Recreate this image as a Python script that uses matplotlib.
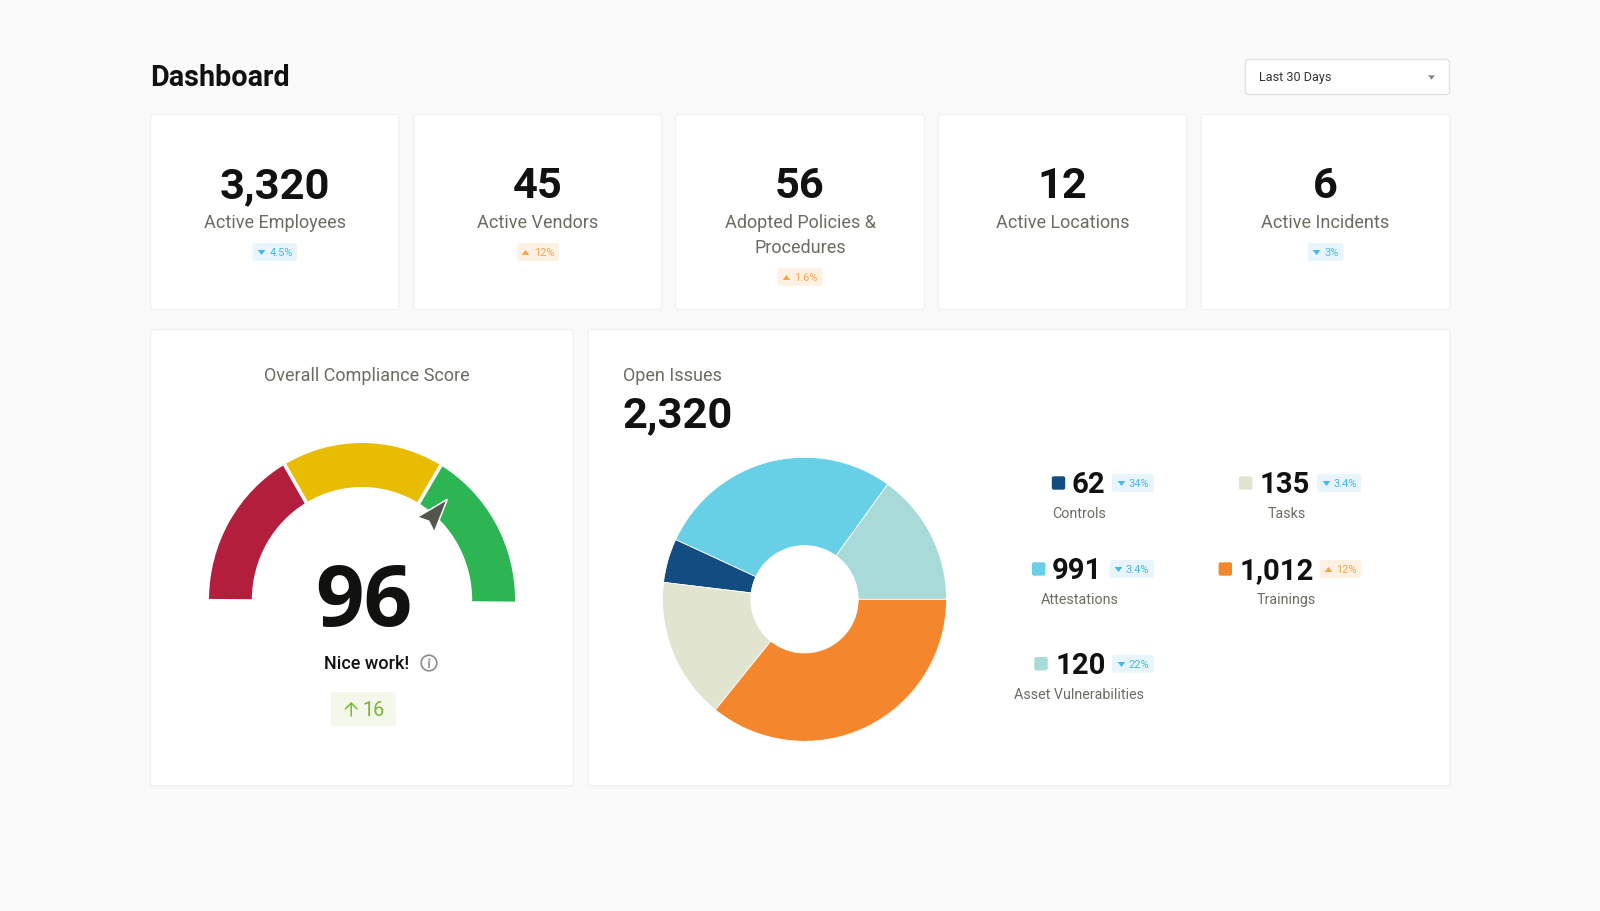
import matplotlib
matplotlib.use("Agg")
import numpy as np
import matplotlib.pyplot as plt
from matplotlib.patches import FancyBboxPatch, Wedge, Polygon, Circle
from matplotlib.path import Path

plt.rcParams['font.family'] = ['Roboto', 'DejaVu Sans']

W, H = 1600, 911
BG = '#FAFAFA'
INK = '#111210'
MUTED = '#6C6C62'
EDGE = '#F1F1F1'
BLUE, BLUE_BG = '#43B8F0', '#E8F5FC'
ORANGE, ORANGE_BG = '#F9A44A', '#FEF1E3'

# ---- data ----
page_title = 'Dashboard'
period_label = 'Last 30 Days'

kpi_values = ['3,320', '45', '56', '12', '6']
kpi_labels = ['Active Employees', 'Active Vendors', 'Adopted Policies &\nProcedures',
              'Active Locations', 'Active Incidents']
kpi_changes = ['4.5%', '12%', '1.6%', None, '3%']
kpi_directions = ['down', 'up', 'up', None, 'down']

gauge_title = 'Overall Compliance Score'
gauge_score = '96'
gauge_message = 'Nice work!'
gauge_delta = '16'
gauge_spans_deg = [59.2, 61.4, 59.6]
gauge_colors = ['#B31E3C', '#E8BC00', '#2DB453']
pointer_angle_deg = 49.0

issues_title = 'Open Issues'
issues_total = '2,320'
# slice shares (percent of the ring), counter-clockwise from east
slice_names = ['Asset Vulnerabilities', 'Attestations', 'Controls', 'Tasks', 'Trainings']
slice_shares = [15.05, 28.05, 5.0, 16.1, 35.8]
slice_colors = ['#A8DBD8', '#67D0E7', '#124C80', '#E1E4CF', '#F4862E']

legend_names = ['Controls', 'Tasks', 'Attestations', 'Trainings', 'Asset Vulnerabilities']
legend_counts = ['62', '135', '991', '1,012', '120']
legend_changes = ['34%', '3.4%', '3.4%', '12%', '22%']
legend_directions = ['down', 'down', 'down', 'up', 'down']
legend_colors = ['#124C80', '#E1E4CF', '#67D0E7', '#F4862E', '#A8DBD8']

# ---- canvas (1 data unit = 1 pixel) ----
fig = plt.figure(figsize=(W / 100, H / 100), dpi=100, facecolor=BG)


def px_axes(x0, y0, x1, y1, z):
    a = fig.add_axes([x0 / W, 1 - y1 / H, (x1 - x0) / W, (y1 - y0) / H], zorder=z)
    a.patch.set_alpha(0)
    a.axis('off')
    return a


base = px_axes(0, 0, W, H, 0)
base.set_xlim(0, W)
base.set_ylim(H, 0)
top = px_axes(0, 0, W, H, 3)
top.set_xlim(0, W)
top.set_ylim(H, 0)


def box(a, x0, y0, x1, y1, fc, ec='none', r=3, lw=1.0):
    a.add_patch(FancyBboxPatch((x0, y0), x1 - x0, y1 - y0,
                               boxstyle=f'round,pad=0,rounding_size={r}',
                               fc=fc, ec=ec, lw=lw))


def text(x, cy, s, px, color=INK, weight='normal', ha='center', family=None):
    """Place text so that its capital letters are centred on cy."""
    kw = {'family': family} if family else {}
    top.text(x, cy + 0.355 * px, s, fontsize=px * 0.72, color=color,
             fontweight=weight, ha=ha, va='baseline', **kw)


TRI_DOWN = Path([(-1, 0.65), (1, 0.65), (0, -0.65), (-1, 0.65)], closed=True)
TRI_UP = Path([(-1, -0.65), (1, -0.65), (0, 0.65), (-1, -0.65)], closed=True)


def badge(x0, x1, cy, label, direction, h=18):
    col, bg = (BLUE, BLUE_BG) if direction == 'down' else (ORANGE, ORANGE_BG)
    box(base, x0, cy - h / 2, x1, cy + h / 2, bg, r=3)
    top.plot([x0 + 8.6], [cy], ls='none', marker=TRI_DOWN if direction == 'down' else TRI_UP,
             ms=5.5, mfc=col, mec='none')
    text(x1 - 4.6, cy, label, 11, color=col, ha='right')


# header
text(149.8, 76, page_title, 28.7, weight='bold', ha='left')
box(base, 1245.5, 59.5, 1449.5, 94.5, 'white', '#E2E2E2', r=3, lw=1.0)
text(1259.3, 77, period_label, 12.6, color='#333333', ha='left')
top.plot([1430.5], [77], ls='none', marker=TRI_DOWN, ms=5, mfc='#8A8A8A', mec='none')

# KPI cards
card_edges = [(150.5, 399), (413.5, 662), (675.5, 924.5), (938, 1187), (1201, 1450)]
badge_widths = [45, 42, 45, 0, 36]
for (x0, x1), val, lab, chg, dirn, bw in zip(card_edges, kpi_values, kpi_labels,
                                             kpi_changes, kpi_directions, badge_widths):
    box(base, x0, 114.5, x1, 309.5, 'white', EDGE, r=3)
    cx = (x0 + x1) / 2
    text(cx, 182.6, val, 43.5, weight='bold')
    lines = lab.split('\n')
    for i, line in enumerate(lines):
        text(cx, 221.7 + i * 24.8, line, 17.95, color=MUTED)
    if chg:
        badge(cx - bw / 2, cx + bw / 2, 252 + (len(lines) - 1) * 24.8, chg, dirn)

# bottom cards
box(base, 150.5, 329.5, 573.5, 786, 'white', EDGE, r=3)
box(base, 588, 329.5, 1450, 786, 'white', EDGE, r=3)

# gauge
gx, gy, grx, gry = 362, 600, 153, 157
gauge = px_axes(gx - grx, gy - gry, gx + grx, gy + 10, 1)
gauge.set_xlim(-1, 1)
gauge.set_ylim(-10 / gry, 1)
ang = 179.6
bounds = []
for span, col in zip(gauge_spans_deg, gauge_colors):
    gauge.add_patch(Wedge((0, 0), 1.0, ang - span, ang, width=0.28, fc=col, ec='none', clip_on=False))
    ang -= span
    bounds.append(ang)
for b in bounds[:2]:
    c, s = np.cos(np.radians(b)), np.sin(np.radians(b))
    gauge.plot([0.68 * c, 1.03 * c], [0.68 * s, 1.03 * s], color='white', lw=2.6, solid_capstyle='butt')


def polar(r, a):
    return r * np.cos(np.radians(pointer_angle_deg + a)), r * np.sin(np.radians(pointer_angle_deg + a))


ptr = px_axes(gx - grx, gy - gry, gx + grx, gy + 10, 2)
ptr.set_xlim(-1, 1)
ptr.set_ylim(-10 / gry, 1)
ptr.add_patch(Polygon([polar(0.85, 0), polar(0.64, 6.6), polar(0.665, 0), polar(0.64, -6.6)],
                      closed=True, fc='#53564A', ec='white', lw=1.1, joinstyle='miter'))

text(366.5, 374.5, gauge_title, 18, color=MUTED)
text(363.5, 596, gauge_score, 85, weight='bold', family='Open Sans')
text(366.5, 663, gauge_message, 18, weight='medium', color=INK)
top.add_patch(Circle((429, 663), 7.8, fc='none', ec='#8C8C8C', lw=1.2))
top.plot([429, 429], [661, 667.5], color='#8C8C8C', lw=1.2, solid_capstyle='butt')
top.plot([429], [658.7], ls='none', marker='o', ms=1.5, mfc='#8C8C8C', mec='none')

box(base, 331, 692, 396, 726, '#F3F8EB', r=3)
top.annotate('', xy=(351.2, 702), xytext=(351.2, 716),
             arrowprops=dict(arrowstyle='->,head_length=0.42,head_width=0.42', color='#7AB833', lw=1.1,
                             shrinkA=0, shrinkB=0))
text(373.5, 709, gauge_delta, 20, color='#7AB833')

# donut
dx, dy, dr = 804.5, 599.3, 142
donut = px_axes(dx - dr, dy - dr, dx + dr, dy + dr, 1)
donut.pie(slice_shares, colors=slice_colors, startangle=0, counterclock=True, radius=1.0,
          wedgeprops=dict(width=1 - 53.7 / 142, edgecolor='white', linewidth=0.6))
donut.set_xlim(-1, 1)
donut.set_ylim(-1, 1)

text(622.8, 374.5, issues_title, 18, color=MUTED, ha='left')
text(622.8, 412, issues_total, 43.5, weight='bold', ha='left')

# legend entries: swatch x, count centre x, badge x0, x1, label centre x, row y, label y
legend_layout = [
    (1058.5, 1088.5, 1112, 1154, 1079.3, 483, 513.4),
    (1245.7, 1285.2, 1317, 1361.3, 1286.7, 483, 513.4),
    (1038.7, 1077, 1109.7, 1154, 1079.3, 569, 599.4),
    (1225.3, 1276.3, 1319.7, 1361.3, 1286.7, 569, 599.4),
    (1041, 1080.5, 1112, 1154, 1079.3, 663.7, 693.8),
]
for name, cnt, chg, dirn, col, (sx, cx, b0, b1, lx, ry, ly) in zip(
        legend_names, legend_counts, legend_changes, legend_directions, legend_colors, legend_layout):
    box(base, sx - 6.7, ry - 6.7, sx + 6.7, ry + 6.7, col, r=2)
    text(cx, ry, cnt, 29.2, weight='bold')
    badge(b0, b1, ry, chg, dirn)
    text(lx, ly, name, 14.2, color=MUTED)

fig.savefig('out.png', dpi=100, facecolor=BG)
